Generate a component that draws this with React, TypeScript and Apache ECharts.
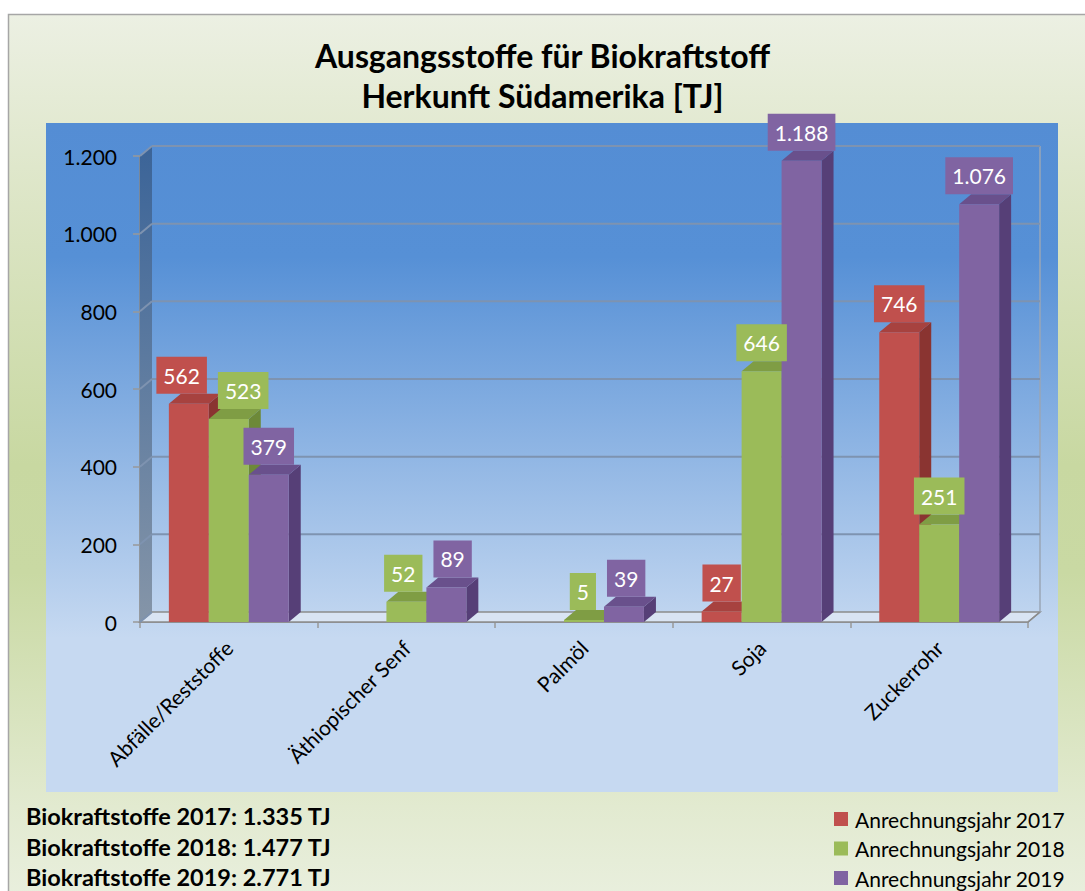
import React, { useEffect, useRef } from "react";
import * as echarts from "echarts";

const categories = ["Abfälle/Reststoffe", "Äthiopischer Senf", "Palmöl", "Soja", "Zuckerrohr"];
const seriesNames = ["Anrechnungsjahr 2017", "Anrechnungsjahr 2018", "Anrechnungsjahr 2019"];
const values2017: (number | null)[] = [562, null, null, 27, 746];
const values2018: (number | null)[] = [523, 52, 5, 646, 251];
const values2019: (number | null)[] = [379, 89, 39, 1188, 1076];
const totalLabels = ["Biokraftstoffe 2017", "Biokraftstoffe 2018", "Biokraftstoffe 2019"];
const yTicks = [0, 200, 400, 600, 800, 1000, 1200];
const titleLines = ["Ausgangsstoffe für Biokraftstoff", "Herkunft Südamerika [TJ]"];

const allValues = [values2017, values2018, values2019];

const FONT = "Lato, 'Open Sans', sans-serif";
const PALETTE = [
  { front: "#c0504d", side: "#8a3431", top: "#a7423f" },
  { front: "#9bbb59", side: "#6d8938", top: "#7f9d44" },
  { front: "#8064a2", side: "#563f77", top: "#69508c" },
];
const DX = 12;
const DY = -10;
const BAR_FRAC = 0.225;
const LABEL_FONT_SIZE = 21;
const PADX = 7;
const BOX_H = 37;
const LABEL_LIFT = 10;
const GAP = 11;

function fmtDe(n: number): string {
  return String(Math.round(n)).replace(/\B(?=(\d{3})+(?!\d))/g, ".");
}

let measureCtx: CanvasRenderingContext2D | null = null;
function textW(t: string): number {
  if (!measureCtx) measureCtx = document.createElement("canvas").getContext("2d");
  if (!measureCtx) return t.length * 12;
  measureCtx.font = `${LABEL_FONT_SIZE}px Lato`;
  return measureCtx.measureText(t).width;
}

function labelBoxes(cat: number, api: any) {
  const band = api.size([1, 0])[0];
  const w = band * BAR_FRAC;
  const base = api.coord([cat, 0]);
  const boxes: any[] = [];
  for (let s = 0; s < 3; s++) {
    const v = allValues[s][cat];
    if (v == null) {
      boxes.push(null);
      continue;
    }
    const xL = base[0] - 1.5 * w + s * w;
    const yt = api.coord([cat, v])[1];
    const bw = textW(fmtDe(v)) + 2 * PADX;
    const bottom = yt - LABEL_LIFT;
    boxes.push({ cx: xL + w / 2, w: bw, bottom, top: bottom - BOX_H });
  }
  let prev: any = null;
  for (const b of boxes) {
    if (!b) continue;
    if (prev) {
      const vOverlap = b.top < prev.bottom && prev.top < b.bottom;
      const need = prev.cx + prev.w / 2 + GAP - (b.cx - b.w / 2);
      if (vOverlap && need > 0) {
        prev.cx -= need / 3;
        b.cx += (need * 2) / 3;
      }
    }
    prev = b;
  }
  return boxes;
}

function makeBarRenderer(s: number) {
  return (params: any, api: any) => {
    const cat = api.value(0);
    const v = api.value(1);
    const band = api.size([1, 0])[0];
    const w = band * BAR_FRAC;
    const base = api.coord([cat, 0]);
    const tp = api.coord([cat, v]);
    const x0 = base[0] - 1.5 * w + s * w;
    const x1 = x0 + w;
    const yb = base[1];
    const yt = tp[1];
    const c = PALETTE[s];
    const b = labelBoxes(cat, api)[s];
    const children: any[] = [
      {
        type: "polygon",
        shape: { points: [[x1, yt], [x1 + DX, yt + DY], [x1 + DX, yb + DY], [x1, yb]] },
        style: { fill: c.side },
      },
      {
        type: "polygon",
        shape: { points: [[x0, yt], [x0 + DX, yt + DY], [x1 + DX, yt + DY], [x1, yt]] },
        style: { fill: c.top },
      },
      {
        type: "rect",
        shape: { x: x0, y: yt, width: w, height: yb - yt },
        style: { fill: c.front },
      },
    ];
    if (b) {
      children.push({
        type: "text",
        z2: 100,
        style: {
          x: b.cx,
          y: b.bottom,
          text: fmtDe(v),
          fill: "#ffffff",
          fontSize: LABEL_FONT_SIZE,
          fontFamily: FONT,
          align: "center",
          verticalAlign: "bottom",
          backgroundColor: c.front,
          padding: [6, PADX, 6, PADX],
          lineHeight: 25,
        },
      });
    }
    return { type: "group", children };
  };
}

function frameRenderer(params: any, api: any) {
  const cs = params.coordSys;
  const x0 = cs.x;
  const x1 = cs.x + cs.width;
  const v = api.value(1);
  const y = api.coord([0, v])[1];
  const grid = "#7e93b0";
  const edge = "#8c8c8c";
  const children: any[] = [];
  if (params.dataIndex === 0) {
    const yTop = cs.y;
    const yBot = cs.y + cs.height;
    children.push({
      type: "polygon",
      z2: -2,
      shape: { points: [[x0, yTop], [x0 + DX, yTop + DY], [x0 + DX, yBot + DY], [x0, yBot]] },
      style: {
        fill: new echarts.graphic.LinearGradient(0, 0, 0, 1, [
          { offset: 0, color: "#3b6498" },
          { offset: 1, color: "#8595a8" },
        ]),
      },
    });
    children.push({
      type: "polygon",
      z2: -2,
      shape: { points: [[x0, yBot], [x0 + DX, yBot + DY], [x1 + DX, yBot + DY], [x1, yBot]] },
      style: { fill: "#d9e4f3", stroke: edge, lineWidth: 1.5 },
    });
    children.push({
      type: "line",
      shape: { x1: x1 + DX, y1: yTop + DY, x2: x1 + DX, y2: yBot + DY },
      style: { stroke: "#9aa6b6", lineWidth: 1.5 },
    });
    children.push({
      type: "line",
      shape: { x1: x1 + DX, y1: yBot + DY, x2: x1, y2: yBot },
      style: { stroke: edge, lineWidth: 1.5 },
    });
  } else {
    children.push({
      type: "line",
      shape: { x1: x0 + DX, y1: y + DY, x2: x1 + DX, y2: y + DY },
      style: { stroke: grid, lineWidth: 2 },
    });
  }
  children.push({
    type: "line",
    shape: { x1: x0, y1: y, x2: x0 + DX, y2: y + DY },
    style: { stroke: grid, lineWidth: 2 },
  });
  return { type: "group", children };
}

export default function App() {
  const ref = useRef<HTMLDivElement>(null);
  useEffect(() => {
    if (!ref.current) return;
    const chart = echarts.init(ref.current, undefined, { renderer: "svg" });
    const totals = allValues.map((arr) => arr.reduce((a: number, b) => a + (b ?? 0), 0));
    const barSeries = allValues.map((arr, s) => ({
      type: "custom",
      name: seriesNames[s],
      renderItem: makeBarRenderer(s),
      itemStyle: { color: PALETTE[s].front },
      encode: { x: 0, y: 1 },
      data: arr
        .map((v, i) => (v == null ? null : [i, v]))
        .filter((d) => d != null),
      z: 3,
    }));
    const legendItems: any[] = [];
    seriesNames.forEach((name, i) => {
      const cy = 819 + i * 29.5;
      legendItems.push({
        type: "rect",
        shape: { x: 834, y: cy - 7, width: 14, height: 14 },
        style: { fill: PALETTE[i].front },
      });
      legendItems.push({
        type: "text",
        x: 855,
        y: cy,
        style: {
          text: name,
          fontFamily: FONT,
          fontSize: 21,
          fill: "#000",
          verticalAlign: "middle",
          align: "left",
        },
      });
    });
    const option: any = {
      animation: false,
      color: PALETTE.map((p) => p.front),
      title: {
        text: titleLines.join("\n"),
        left: "center",
        top: 30,
        textStyle: {
          fontFamily: FONT,
          fontWeight: "bold",
          fontSize: 32,
          lineHeight: 40,
          color: "#000",
        },
      },
      grid: { left: 140, right: 57, top: 156, bottom: 269, containLabel: false },
      xAxis: {
        type: "category",
        data: categories,
        axisLine: { show: true, lineStyle: { color: "#868686", width: 1.5 } },
        axisTick: { show: true, length: 6, lineStyle: { color: "#999", width: 1.5 } },
        axisLabel: {
          rotate: 45,
          interval: 0,
          margin: 22,
          fontFamily: FONT,
          fontSize: 21,
          color: "#000",
        },
        splitLine: { show: false },
      },
      yAxis: {
        type: "value",
        min: 0,
        max: 1200,
        interval: 200,
        axisLine: { show: true, lineStyle: { color: "#868686", width: 1.5 } },
        axisTick: { show: true, length: 7, lineStyle: { color: "#999", width: 1.5 } },
        axisLabel: {
          margin: 23,
          fontFamily: FONT,
          fontSize: 21,
          color: "#000",
          formatter: (v: number) => fmtDe(v),
        },
        splitLine: { show: false },
      },
      graphic: [
        {
          type: "rect",
          z: -10,
          shape: { x: 8.5, y: 14.5, width: 1100, height: 900 },
          style: {
            fill: new echarts.graphic.LinearGradient(0, 0, 0, 1, [
              { offset: 0, color: "#ecf0e3" },
              { offset: 0.17, color: "#dfe7cb" },
              { offset: 0.5, color: "#c8d8a1" },
              { offset: 0.62, color: "#c9d9a3" },
              { offset: 0.88, color: "#e2ead0" },
              { offset: 1, color: "#eaf0e0" },
            ]),
            stroke: "#a6a6a6",
            lineWidth: 1.5,
          },
        },
        {
          type: "rect",
          z: -9,
          shape: { x: 46, y: 123, width: 1012, height: 669 },
          style: {
            fill: new echarts.graphic.LinearGradient(0, 0, 0, 1, [
              { offset: 0, color: "#548dd4" },
              { offset: 0.2, color: "#5690d6" },
              { offset: 0.77, color: "#c6d9f1" },
              { offset: 1, color: "#c6d9f1" },
            ]),
          },
        },
        ...totalLabels.map((t, i) => ({
          type: "text",
          left: 26,
          top: 804 + i * 30.5,
          style: {
            text: `${t}: ${fmtDe(totals[i])} TJ`,
            fontFamily: FONT,
            fontWeight: "bold",
            fontSize: 23.5,
            fill: "#000",
          },
        })),
        ...legendItems,
      ],
      series: [
        {
          type: "custom",
          name: "frame",
          renderItem: frameRenderer,
          encode: { x: 0, y: 1 },
          data: yTicks.map((v) => [0, v]),
          silent: true,
          z: 2,
        },
        ...barSeries,
      ],
    };
    chart.setOption(option);
    return () => chart.dispose();
  }, []);
  return (
    <div
      ref={ref}
      style={{ position: "fixed", left: 0, top: 0, width: 1085, height: 891, background: "#fff" }}
    />
  );
}
